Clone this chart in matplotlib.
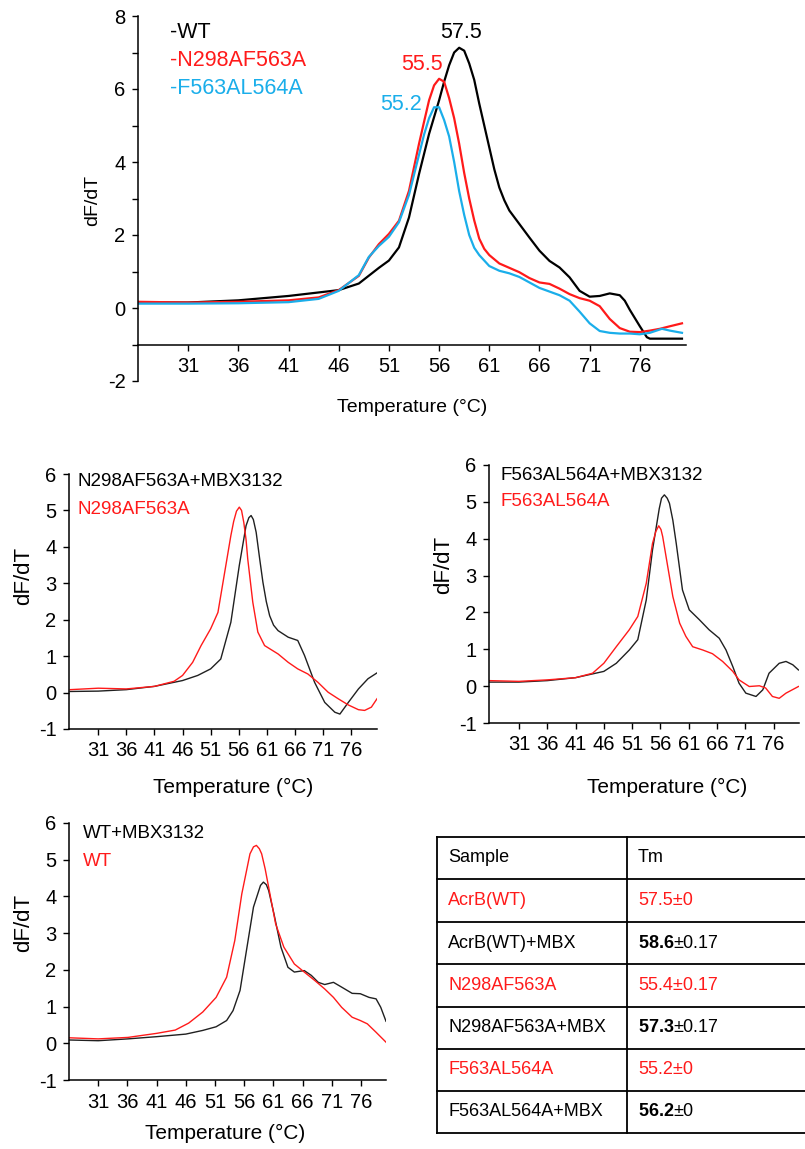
import numpy as np
import matplotlib
matplotlib.use("Agg")
import matplotlib.pyplot as plt

plt.rcParams['font.family'] = ['Liberation Sans', 'DejaVu Sans']
plt.rcParams['axes.unicode_minus'] = False
plt.rcParams['mathtext.fontset'] = 'custom'
plt.rcParams['mathtext.rm'] = 'Liberation Sans'
plt.rcParams['mathtext.bf'] = 'Liberation Sans:bold'

RED = '#ff1a1a'
BLUE = '#1aaeea'

# ---- top panel: melting curves of WT and the two mutants ----
wt_t = [26, 31, 36, 41, 46, 48, 50, 51, 52, 53, 54, 55, 56, 56.5, 57, 57.5, 58, 58.5, 59, 59.5,
        60, 60.5, 61, 61.5, 62, 62.5, 63, 64, 65, 66, 67, 68, 69, 70, 71, 72, 73, 74, 74.5, 75,
        76, 76.7, 77, 78, 79, 80.2]
wt_v = [0.15, 0.15, 0.21, 0.33, 0.49, 0.67, 1.1, 1.3, 1.66, 2.48, 3.67, 4.77, 5.69, 6.2, 6.65,
        7.0, 7.13, 7.05, 6.7, 6.25, 5.6, 5.0, 4.4, 3.8, 3.3, 2.95, 2.67, 2.3, 1.93, 1.57, 1.29,
        1.11, 0.84, 0.47, 0.31, 0.33, 0.40, 0.35, 0.2, -0.05, -0.5, -0.8, -0.84, -0.84, -0.84,
        -0.84]

n298_t = [26, 31, 36, 41, 44, 46, 48, 49, 50, 51, 52, 53, 54, 54.5, 55, 55.5, 56, 56.5, 57, 57.5,
          58, 58.5, 59, 59.5, 60, 60.5, 61, 62, 63, 64, 65, 66, 67, 68, 69, 70, 71, 72, 73, 74,
          75, 76, 77, 78, 79, 80.2]
n298_v = [0.17, 0.15, 0.17, 0.21, 0.29, 0.49, 0.88, 1.38, 1.75, 2.03, 2.39, 3.21, 4.5, 5.1, 5.69,
          6.1, 6.28, 6.2, 5.75, 5.2, 4.5, 3.7, 3.0, 2.4, 1.9, 1.62, 1.45, 1.22, 1.1, 0.98, 0.82,
          0.7, 0.66, 0.53, 0.38, 0.27, 0.2, 0.05, -0.3, -0.55, -0.65, -0.66, -0.62, -0.57, -0.5,
          -0.42]

f563_t = [26, 31, 36, 41, 44, 46, 48, 49, 50, 51, 52, 53, 54, 54.5, 55, 55.5, 56, 56.5, 57, 57.5,
          58, 58.5, 59, 59.5, 60, 61, 62, 63, 64, 65, 66, 67, 68, 69, 70, 71, 72, 73, 74, 75, 76,
          77, 78.2, 79, 80.2]
f563_v = [0.12, 0.12, 0.13, 0.16, 0.25, 0.47, 0.9, 1.4, 1.7, 1.95, 2.35, 3.1, 4.2, 4.75, 5.2,
          5.5, 5.5, 5.15, 4.7, 4.0, 3.2, 2.55, 2.0, 1.65, 1.45, 1.15, 1.02, 0.95, 0.85, 0.7, 0.55,
          0.45, 0.35, 0.2, -0.1, -0.42, -0.63, -0.68, -0.7, -0.7, -0.72, -0.68, -0.57, -0.62,
          -0.68]

top_tm = ['57.5', '55.5', '55.2']

# ---- N298AF563A +/- MBX3132 ----
n298m_t = [26, 31, 36, 41, 46, 48.7, 51, 52.8, 54.6, 56.1, 57.3, 57.8, 58.2, 58.6, 59.1, 59.7,
           60.3, 60.9, 61.5, 62.2, 63, 64.8, 66.5, 67.7, 69.5, 71.3, 73.1, 74, 75.5, 77.3, 79,
           80.6]
n298m_v = [0.03, 0.04, 0.08, 0.17, 0.33, 0.47, 0.65, 0.92, 1.93, 3.49, 4.58, 4.8, 4.86, 4.75,
           4.4, 3.7, 3.03, 2.5, 2.11, 1.85, 1.7, 1.52, 1.43, 1.02, 0.28, -0.27, -0.54, -0.59,
           -0.27, 0.1, 0.38, 0.54]
n298b_t = [26, 31, 36, 41, 44.5, 46, 47.8, 49.3, 51, 52.3, 53.4, 54.6, 55.1, 55.6, 56.1, 56.5,
           56.9, 57.3, 57.6, 58.5, 59.4, 60.6, 63, 64.8, 66.5, 68.3, 70.1, 71.9, 73.7, 75.5,
           77.3, 78.4, 79.6, 80.6]
n298b_v = [0.08, 0.12, 0.1, 0.17, 0.31, 0.47, 0.83, 1.29, 1.75, 2.2, 3.21, 4.31, 4.7, 4.98,
           5.09, 5.0, 4.67, 4.2, 3.67, 2.48, 1.66, 1.29, 1.06, 0.83, 0.65, 0.51, 0.28, 0.01,
           -0.17, -0.34, -0.47, -0.49, -0.4, -0.17]

# ---- F563AL564A +/- MBX3132 ----
f563m_t = [25.7, 31, 36, 41, 46, 48.2, 50.5, 52, 53.5, 54.6, 55.8, 56.2, 56.7, 57.2, 57.6, 58.2,
           58.8, 59.9, 61.1, 62.9, 64.6, 66.4, 67.6, 68.8, 69.9, 71.1, 72.9, 74.1, 75.2, 77,
           78.2, 79.4, 80.4]
f563m_v = [0.11, 0.11, 0.15, 0.23, 0.4, 0.62, 0.98, 1.26, 2.34, 3.69, 4.82, 5.1, 5.19, 5.1,
           4.96, 4.5, 3.87, 2.61, 2.07, 1.8, 1.53, 1.3, 0.98, 0.53, 0.08, -0.19, -0.28, -0.1,
           0.35, 0.62, 0.67, 0.58, 0.44]
f563b_t = [25.7, 31, 36, 41, 44, 46, 48.2, 50.5, 52, 53.5, 54.6, 55.2, 55.7, 56.1, 56.4, 57.3,
           58.2, 59.4, 60.5, 61.7, 63.5, 65.2, 67, 68.8, 69.9, 71.7, 73.5, 74.6, 75.8, 77,
           78.2, 80.4]
f563b_v = [0.15, 0.13, 0.17, 0.23, 0.35, 0.62, 1.07, 1.53, 1.89, 2.79, 3.87, 4.2, 4.35, 4.25,
           4.06, 3.24, 2.43, 1.71, 1.35, 1.07, 0.98, 0.88, 0.67, 0.4, 0.17, -0.01, 0.01, -0.05,
           -0.28, -0.33, -0.19, -0.01]

# ---- WT +/- MBX3132 ----
wtm_t = [26, 31, 36.1, 41, 46, 48.9, 51.2, 53, 54.1, 55.3, 56.4, 57.6, 58.8, 59.3, 59.8, 60.2,
         61.1, 62.3, 63.5, 64.6, 66.3, 67.5, 68.7, 69.8, 71.3, 72.7, 74.5, 75.9, 77.4, 78.6,
         79.4, 80.3]
wtm_v = [0.09, 0.07, 0.12, 0.18, 0.25, 0.35, 0.45, 0.62, 0.89, 1.44, 2.53, 3.71, 4.3, 4.39,
         4.32, 4.16, 3.53, 2.62, 2.07, 1.94, 1.98, 1.85, 1.66, 1.6, 1.66, 1.53, 1.36, 1.35,
         1.25, 1.21, 0.98, 0.6]
wtb_t = [26, 31, 36.1, 41, 44.2, 46.5, 48.9, 51.2, 53, 54.4, 55.6, 57, 57.6, 58.1, 58.6, 59,
         59.6, 60.2, 61.4, 62.8, 64.6, 66.3, 68.1, 69.8, 71.3, 72.7, 74.5, 75.9, 77.1, 78.6,
         80.3]
wtb_v = [0.15, 0.12, 0.16, 0.27, 0.36, 0.55, 0.85, 1.25, 1.8, 2.8, 4.07, 5.16, 5.35, 5.39, 5.3,
         5.16, 4.75, 4.25, 3.25, 2.62, 2.16, 1.94, 1.71, 1.48, 1.25, 0.98, 0.71, 0.62, 0.53,
         0.3, 0.03]

# ---- table ----
samples = ['AcrB(WT)', 'AcrB(WT)+MBX', 'N298AF563A', 'N298AF563A+MBX', 'F563AL564A', 'F563AL564A+MBX']
tm_vals = ['57.5', '58.6', '55.4', '57.3', '55.2', '56.2']
tm_err = ['0', '0.17', '0.17', '0.17', '0', '0']

xticks = [31, 36, 41, 46, 51, 56, 61, 66, 71, 76]

W, H = 805, 1149
fig = plt.figure(figsize=(W / 100, H / 100), dpi=100)


def box(l, t, r, b):
    return [l / W, 1 - b / H, (r - l) / W, (b - t) / H]


def ftext(x, y, s, **kw):
    fig.text(x / W, 1 - y / H, s, **kw)


def style(ax, xl, yl, fs):
    for s in ['top', 'right']:
        ax.spines[s].set_visible(False)
    ax.spines['left'].set_linewidth(1.1)
    ax.spines['bottom'].set_linewidth(1.1)
    ax.set_xlim(*xl)
    ax.set_ylim(*yl)
    ax.set_xticks(xticks)
    ax.tick_params(direction='out', length=4, width=1, labelsize=fs, pad=5)
    ax.patch.set_alpha(0)


# top panel
ax = fig.add_axes(box(138, 16, 686, 381))
style(ax, (26, 80.6), (-2, 8), 14.5)
ax.spines['bottom'].set_position(('data', -1))
ax.set_yticks(range(-2, 9))
ax.set_yticklabels([str(v) if v % 2 == 0 else '' for v in range(-2, 9)])
ax.plot(wt_t, wt_v, color='black', lw=1.6)
ax.plot(n298_t, n298_v, color=RED, lw=1.6)
ax.plot(f563_t, f563_v, color=BLUE, lw=1.6)
ftext(170, 33, '-WT', fontsize=15.5, va='center')
ftext(170, 61, '-N298AF563A', fontsize=15.5, va='center', color=RED)
ftext(170, 88, '-F563AL564A', fontsize=15.5, va='center', color=BLUE)
ftext(461, 32, top_tm[0], fontsize=15.5, ha='center', va='center')
ftext(422, 65, top_tm[1], fontsize=15.5, ha='center', va='center', color=RED)
ftext(401, 105, top_tm[2], fontsize=15.5, ha='center', va='center', color=BLUE)
ftext(93, 200, 'dF/dT', fontsize=14, rotation=90, ha='center', va='center')
ftext(412, 407, 'Temperature (°C)', fontsize=14, ha='center', va='center')

panels = [
    ((69, 474, 377, 729), (25.8, 80.6), n298m_t, n298m_v, n298b_t, n298b_v,
     'N298AF563A+MBX3132', 'N298AF563A', (77, 482, 510), (24, 576), (233, 787)),
    ((489, 465, 799, 723), (25.7, 80.5), f563m_t, f563m_v, f563b_t, f563b_v,
     'F563AL564A+MBX3132', 'F563AL564A', (500, 475, 502), (444, 565), (667, 787)),
    ((69, 823, 386, 1080), (26, 80.3), wtm_t, wtm_v, wtb_t, wtb_v,
     'WT+MBX3132', 'WT', (83, 833, 862), (24, 923), (225, 1133)),
]
for rect, xl, mt, mv, bt, bv, lab1, lab2, lp, yp, xp in panels:
    ax = fig.add_axes(box(*rect))
    style(ax, xl, (-1, 6), 14.5)
    ax.set_yticks(range(-1, 7))
    ax.plot(mt, mv, color='#202020', lw=1.0)
    ax.plot(bt, bv, color=RED, lw=1.0)
    ftext(lp[0], lp[1], lab1, fontsize=13.5, va='center')
    ftext(lp[0], lp[2], lab2, fontsize=13.5, va='center', color=RED)
    ftext(yp[0], yp[1], 'dF/dT', fontsize=16, rotation=90, ha='center', va='center')
    ftext(xp[0], xp[1], 'Temperature (°C)', fontsize=15, ha='center', va='center')

# table
tax = fig.add_axes([0, 0, 1, 1])
tax.set_xlim(0, W)
tax.set_ylim(H, 0)
tax.axis('off')
rows = [837, 879, 922, 964, 1007, 1049, 1091, 1133]
for y in rows:
    tax.plot([437, W + 5], [y, y], color='black', lw=1.3)
tax.plot([437, 437], [rows[0], rows[-1]], color='black', lw=1.3)
tax.plot([627, 627], [rows[0], rows[-1]], color='black', lw=1.3)
tax.text(448, (rows[0] + rows[1]) / 2, 'Sample', fontsize=13, va='center')
tax.text(638, (rows[0] + rows[1]) / 2, 'Tm', fontsize=13, va='center')
for i in range(len(samples)):
    yc = (rows[i + 1] + rows[i + 2]) / 2
    c = RED if i % 2 == 0 else 'black'
    tax.text(448, yc, samples[i], fontsize=13, va='center', color=c)
    if i % 2 == 0:
        s = tm_vals[i] + '±' + tm_err[i]
    else:
        s = r'$\mathbf{' + tm_vals[i] + '}$±' + tm_err[i]
    tax.text(638, yc, s, fontsize=13, va='center', color=c)

plt.savefig('out.png', dpi=100)
